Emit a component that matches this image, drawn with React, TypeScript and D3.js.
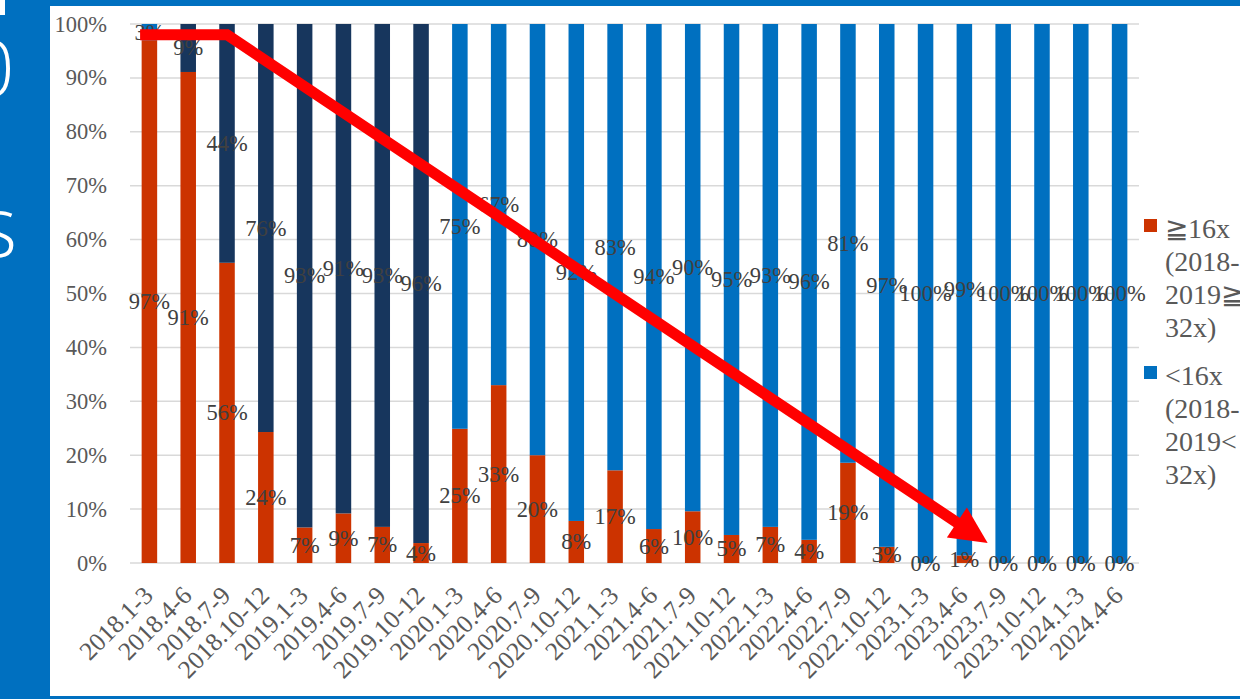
import React from "react";
import * as d3 from "d3";

const CATEGORIES = [
  "2018.1-3", "2018.4-6", "2018.7-9", "2018.10-12",
  "2019.1-3", "2019.4-6", "2019.7-9", "2019.10-12",
  "2020.1-3", "2020.4-6", "2020.7-9", "2020.10-12",
  "2021.1-3", "2021.4-6", "2021.7-9", "2021.10-12",
  "2022.1-3", "2022.4-6", "2022.7-9", "2022.10-12",
  "2023.1-3", "2023.4-6", "2023.7-9", "2023.10-12",
  "2024.1-3", "2024.4-6",
];

// ≧16x (2018-2019 ≧32x)
const HIGH = [
  97.0, 91.1, 55.7, 24.3, 6.6, 9.2, 6.7, 3.7, 24.9, 33.0, 20.0, 7.8, 17.2,
  6.3, 9.6, 5.2, 6.7, 4.3, 18.6, 3.0, 0, 1.4, 0, 0, 0, 0,
];
// <16x (2018-2019 <32x)
const LOW = [
  3.0, 8.9, 44.3, 75.7, 93.4, 90.8, 93.3, 96.3, 75.1, 67.0, 80.0, 92.2, 82.8,
  93.7, 90.4, 94.8, 93.3, 95.7, 81.4, 97.0, 100, 98.6, 100, 100, 100, 100,
];
// periods whose "<" segment is drawn in dark navy
const NAVY_PERIODS = [
  "2018.4-6", "2018.7-9", "2018.10-12", "2019.1-3",
  "2019.4-6", "2019.7-9", "2019.10-12",
];

const Y_TICKS = [0, 10, 20, 30, 40, 50, 60, 70, 80, 90, 100];

const LEGEND = [
  { key: "high", lines: ["≧16x", "(2018-", "2019≧", "32x)"] },
  { key: "low", lines: ["<16x", "(2018-", "2019<", "32x)"] },
];

// trend arrow annotation (category index, offset within band, value %)
const ARROW = [
  { i: 0, off: -0.24, v: 98 },
  { i: 2, off: 0, v: 98 },
  { i: 21, off: 0.6, v: 3.7 },
];

const W = 1240;
const H = 699;
const ORANGE = "#CC3300";
const BLUE = "#0070C0";
const NAVY = "#17365D";
const SERIF = "'Times New Roman', 'Liberation Serif', serif";

export default function App() {
  const x = d3.scaleBand<string>().domain(CATEGORIES).range([130, 1139]).paddingInner(0.6).paddingOuter(0.3);
  const y = d3.scaleLinear().domain([0, 100]).range([563, 24]);
  const bw = x.bandwidth();
  const step = x.step();
  const cx = (c: string) => (x(c) as number) + bw / 2;

  const fmt = (v: number) => `${Math.round(v)}%`;

  const pts = ARROW.map((p) => [cx(CATEGORIES[p.i]) + p.off * step, y(p.v)] as [number, number]);
  const tip = pts[pts.length - 1];
  const prev = pts[pts.length - 2];
  const ang = Math.atan2(tip[1] - prev[1], tip[0] - prev[0]);
  const headLen = 37;
  const headHalf = 18;
  const base: [number, number] = [tip[0] - headLen * Math.cos(ang), tip[1] - headLen * Math.sin(ang)];
  const nx = -Math.sin(ang);
  const ny = Math.cos(ang);
  const linePts = [...pts.slice(0, -1), [base[0] + 2 * Math.cos(ang), base[1] + 2 * Math.sin(ang)] as [number, number]];
  const line = d3.line()(linePts) as string;
  const head = `M${tip[0]},${tip[1]}L${base[0] + nx * headHalf},${base[1] + ny * headHalf}L${base[0] - nx * headHalf},${base[1] - ny * headHalf}Z`;

  return (
    <svg width={W} height={H} style={{ position: "absolute", left: 0, top: 0, background: "#fff" }}>
      {/* frame */}
      <rect x={0} y={0} width={W} height={6} fill={BLUE} />
      <rect x={0} y={0} width={50} height={H} fill={BLUE} />
      <rect x={0} y={696} width={W} height={3} fill={BLUE} />
      <rect x={0} y={0} width={5} height={15} fill="#fff" />
      <text x={-30} y={96} fill="#fff" fontFamily="'Open Sans', 'Noto Sans', sans-serif" fontSize={78} fontWeight={300}>0</text>
      <text x={-22} y={257} fill="#fff" fontFamily="'Open Sans', 'Noto Sans', sans-serif" fontSize={84} fontWeight={300}>s</text>

      {/* gridlines */}
      {Y_TICKS.map((t) => (
        <line key={t} x1={130} x2={1139} y1={y(t)} y2={y(t)} stroke="#D9D9D9" strokeWidth={1.5} />
      ))}
      {Y_TICKS.map((t) => (
        <text key={"t" + t} x={107} y={y(t)} textAnchor="end" dominantBaseline="central" fill="#595959" fontFamily={SERIF} fontSize={22.5}>
          {t}%
        </text>
      ))}

      {/* bars */}
      {CATEGORIES.map((c, i) => (
        <g key={c}>
          <rect x={x(c)} width={bw} y={y(HIGH[i])} height={y(0) - y(HIGH[i])} fill={ORANGE} />
          <rect x={x(c)} width={bw} y={y(HIGH[i] + LOW[i])} height={y(HIGH[i]) - y(HIGH[i] + LOW[i])} fill={NAVY_PERIODS.includes(c) ? NAVY : BLUE} />
        </g>
      ))}

      {/* data labels */}
      {CATEGORIES.map((c, i) => (
        <g key={"l" + c} fill="#404040" fontFamily={SERIF} fontSize={22.5} textAnchor="middle">
          <text x={cx(c)} y={y(HIGH[i] / 2)} dominantBaseline="central">{fmt(HIGH[i])}</text>
          <text x={cx(c)} y={y(HIGH[i] + LOW[i] / 2)} dominantBaseline="central">{fmt(LOW[i])}</text>
        </g>
      ))}

      {/* category labels */}
      {CATEGORIES.map((c) => (
        <text key={"c" + c} transform={`translate(${cx(c) + 5},${597}) rotate(-45)`} textAnchor="end" fill="#595959" fontFamily={SERIF} fontSize={25.5}>
          {c}
        </text>
      ))}

      {/* legend */}
      {LEGEND.map((e, k) => (
        <g key={e.key} transform={`translate(0,${k * 147})`}>
          <rect x={1144} y={219} width={13} height={13} fill={e.key === "high" ? ORANGE : BLUE} />
          {e.lines.map((l, j) => (
            <text key={j} x={1165} y={228 + j * 33.3} dominantBaseline="central" fill="#595959" fontFamily={SERIF} fontSize={28}>
              {l}
            </text>
          ))}
        </g>
      ))}

      {/* trend arrow */}
      <path d={line} fill="none" stroke="#FF0000" strokeWidth={11} strokeLinejoin="miter" />
      <path d={head} fill="#FF0000" />
    </svg>
  );
}
